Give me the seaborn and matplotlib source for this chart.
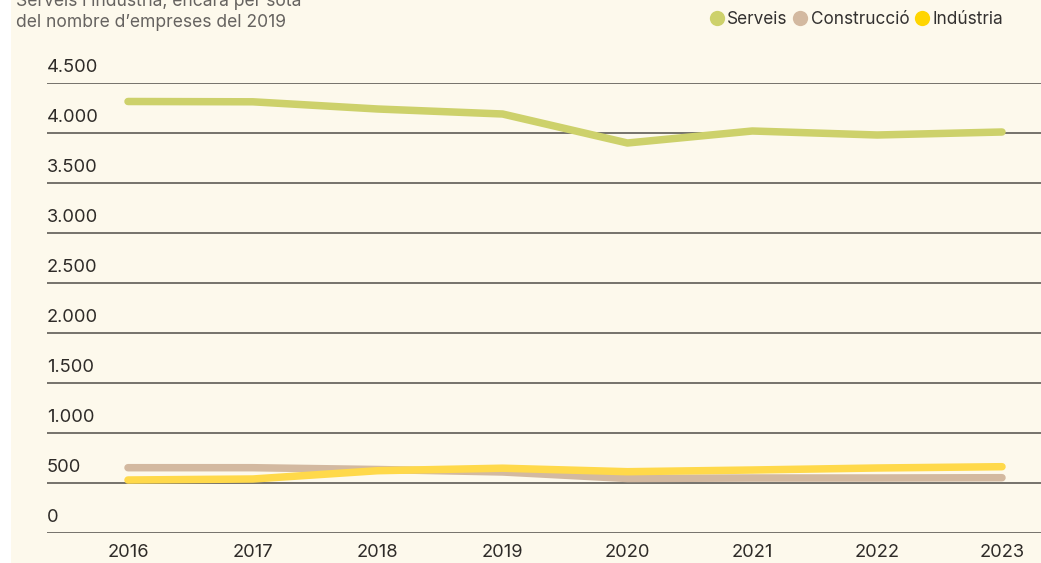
import matplotlib
matplotlib.use("Agg")
import matplotlib.pyplot as plt
import matplotlib.transforms as mtransforms
from matplotlib.lines import Line2D
from matplotlib.patches import Rectangle
import seaborn as sns
import pandas as pd

years = [2016, 2017, 2018, 2019, 2020, 2021, 2022, 2023]
serveis = [4315, 4312, 4240, 4190, 3900, 4020, 3980, 4010]
construccio = [653, 653, 635, 610, 545, 550, 550, 553]
industria = [530, 540, 623, 648, 613, 630, 650, 663]
series_names = ["Serveis", "Construcció", "Indústria"]
colors = ["#CDD16B", "#D3B9A0", "#FFD94A"]
legend_colors = ["#CDD16B", "#D3B9A0", "#FFD500"]
y_ticks = [0, 500, 1000, 1500, 2000, 2500, 3000, 3500, 4000, 4500]
y_labels = ["0", "500", "1.000", "1.500", "2.000", "2.500", "3.000", "3.500", "4.000", "4.500"]
title_lines = ["Serveis i indústria, encara per sota", "del nombre d\u2019empreses del 2019"]

df = pd.DataFrame({
    "any": years * 3,
    "valor": serveis + construccio + industria,
    "sector": [series_names[0]] * 8 + [series_names[1]] * 8 + [series_names[2]] * 8,
})

sns.set_theme(style="white")
plt.rcParams["font.family"] = ["Inter", "DejaVu Sans"]

W, H = 1041, 563
bg = "#FDF9EC"
fig = plt.figure(figsize=(W / 100, H / 100), dpi=100, facecolor=bg)
fig.patches.append(Rectangle((0, 0), 11 / W, 1, transform=fig.transFigure,
                             facecolor="white", edgecolor="none", zorder=-10))

left, right = 47, 1041
top, bottom = 83, 533
ax = fig.add_axes([left / W, 1 - bottom / H, (right - left) / W, (bottom - top) / H])
ax.set_facecolor("none")

sns.lineplot(data=df, x="any", y="valor", hue="sector", palette=dict(zip(series_names, colors)),
             linewidth=5.4, ax=ax, legend=False, sort=False)
for ln in ax.get_lines():
    ln.set_solid_capstyle("round")
    ln.set_solid_joinstyle("round")
    ln.set_clip_on(False)
    ln.set_zorder(3)

px_per_year = (1002 - 128) / 7
ax.set_xlim(2016 - (128 - left) / px_per_year, 2023 + (right - 1002) / px_per_year)
ax.set_ylim(0, 4500)

ax.set_yticks(y_ticks)
ax.set_yticklabels(y_labels)
ax.yaxis.grid(True, color="#5E5B55", linewidth=1.2)
ax.xaxis.grid(False)
for s in ax.spines.values():
    s.set_visible(False)

ax.tick_params(axis="y", length=0, pad=0, labelsize=13.2, labelcolor="#2E2B28")
offset = mtransforms.ScaledTranslation(0, 17 / 100, fig.dpi_scale_trans)
for lab in ax.get_yticklabels():
    lab.set_horizontalalignment("left")
    lab.set_transform(lab.get_transform() + offset)

ax.set_xticks(years)
ax.set_xticklabels([str(y) for y in years])
ax.tick_params(axis="x", length=0, pad=8, labelsize=13.2, labelcolor="#2E2B28")
ax.set_xlabel("")
ax.set_ylabel("")

fig.text(16 / W, 1 - 6 / H, title_lines[0], ha="left", va="baseline", fontsize=12.6, color="#666360")
fig.text(16 / W, 1 - 27 / H, title_lines[1], ha="left", va="baseline", fontsize=12.6, color="#666360")

handles = [Line2D([0], [0], marker="o", linestyle="none", markersize=11,
                  markerfacecolor=c, markeredgecolor="none") for c in legend_colors]
fig.legend(handles, series_names, loc="center right", bbox_to_anchor=(1012 / W, 1 - 20 / H),
           ncol=3, frameon=False, fontsize=12.4, handletextpad=0.15, columnspacing=0.3,
           handlelength=0.9, borderpad=0, labelcolor="#333130")

fig.savefig("out.png", dpi=100, facecolor=bg)
